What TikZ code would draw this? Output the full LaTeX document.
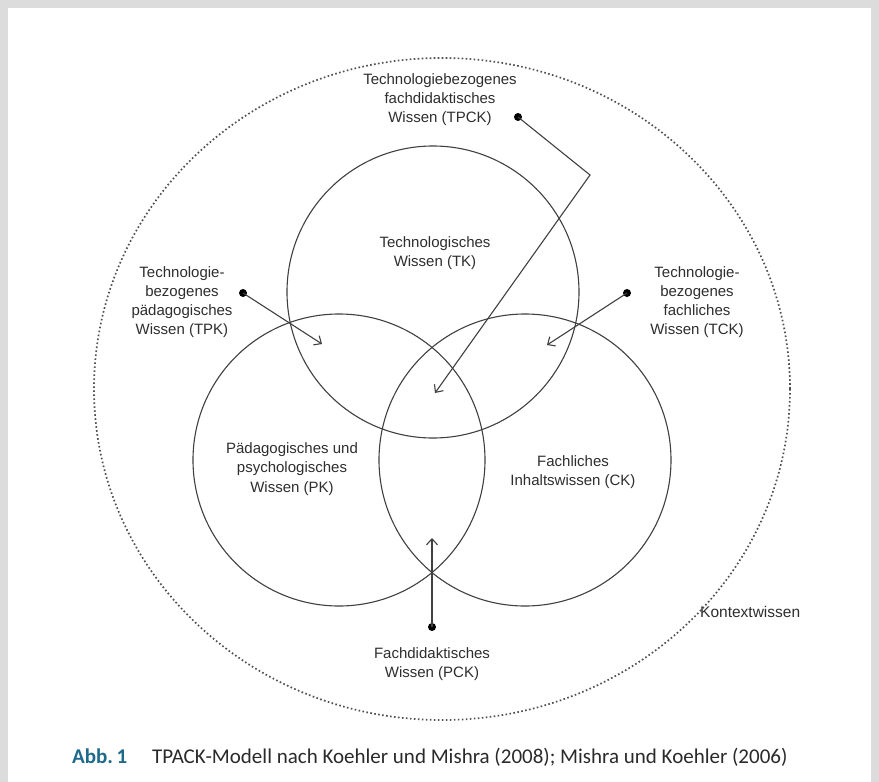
\documentclass[tikz,border=0pt]{standalone}
\usepackage{fontspec}
\setmainfont{Liberation Sans}
\newfontfamily\capfont{Carlito}
\usetikzlibrary{arrows.meta}
\definecolor{bordergray}{HTML}{DCDCDC}
\definecolor{linegray}{HTML}{404040}
\definecolor{dotgray}{HTML}{505050}
\definecolor{textgray}{HTML}{2E2E2E}
\definecolor{abbblue}{HTML}{1E6A8A}
\definecolor{captext}{HTML}{2A2A2A}
\begin{document}
\begin{tikzpicture}[x=1pt,y=-1pt,
  lbl/.style={align=center, font=\fontsize{15}{19.2}\selectfont, text=textgray, inner sep=0},
  circ/.style={draw=linegray, line width=1.1pt},
  ctx/.style={draw=dotgray, line width=1.7pt, dash pattern=on 1.6pt off 2.4pt},
  dotnode/.style={circle, fill=black, inner sep=0, minimum size=8pt},
  ptr/.style={draw=linegray, line width=1.1pt, -{Straight Barb[length=6pt, width=11pt]}},
  captionstyle/.style={inner sep=0, anchor=base west, font=\capfont\fontsize{21}{25}\selectfont}
]
\fill[bordergray] (0,0) rectangle (879,782);
\fill[white] (8,8) rectangle (871,782);
\useasboundingbox (0,0) rectangle (879,782);

% context ellipse
\draw[ctx] (442,389) ellipse[x radius=348, y radius=331];

% three circles
\draw[circ] (433,292) circle[radius=146];
\draw[circ] (339,460) circle[radius=146];
\draw[circ] (525,460) circle[radius=146];

% labels
\node[lbl] (tpck) at (440,99.5) {Technologiebezogenes\\fachdidaktisches\\Wissen (TPCK)};
\node[lbl] (tk) at (435,253) {Technologisches\\Wissen (TK)};
\node[lbl] (tpk) at (182,302) {Technologie-\\bezogenes\\pädagogisches\\Wissen (TPK)};
\node[lbl] (tck) at (697,302) {Technologie-\\bezogenes\\fachliches\\Wissen (TCK)};
\node[lbl] (pk) at (292,469) {Pädagogisches und\\psychologisches\\Wissen (PK)};
\node[lbl] (ck) at (573,472) {Fachliches\\Inhaltswissen (CK)};
\node[lbl] (pck) at (432,664) {Fachdidaktisches\\Wissen (PCK)};
\node[lbl, anchor=west, font=\fontsize{15.5}{19}\selectfont] (ctxl) at (700,612) {Kontextwissen};

% pointer dots and tips
\node[dotnode] (dtpck) at (518,117) {};
\node[dotnode] (dtpk) at (243,293) {};
\node[dotnode] (dtck) at (627,293) {};
\node[dotnode] (dpck) at (432,627) {};
\coordinate (bend) at (590,175);
\coordinate (ttpck) at (435,393);
\coordinate (ttpk) at (322,344);
\coordinate (ttck) at (547,345);
\coordinate (tpck2) at (432,538);

\draw[ptr] (dtpck.center) -- (bend) -- (ttpck);
\draw[ptr] (dtpk.center) -- (ttpk);
\draw[ptr] (dtck.center) -- (ttck);
\draw[ptr] (dpck.center) -- (tpck2);

% caption
\node[captionstyle, text=abbblue] (abb) at (72,763) {\bfseries Abb.\,1};
\node[captionstyle, text=captext] (captxt) at (152,763) {TPACK-Modell nach Koehler und Mishra (2008); Mishra und Koehler (2006)};
\end{tikzpicture}
\end{document}
